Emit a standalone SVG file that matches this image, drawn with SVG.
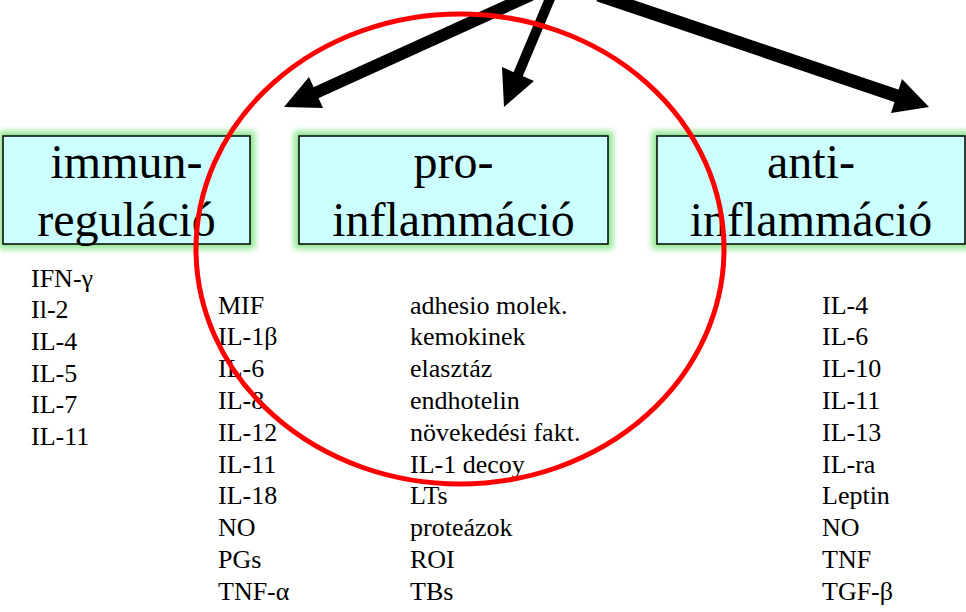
<svg xmlns="http://www.w3.org/2000/svg" width="966" height="612" viewBox="0 0 966 612">
<defs>
<filter id="glow" x="-10%" y="-20%" width="120%" height="140%">
<feGaussianBlur stdDeviation="3"/>
</filter>
<style>
.glow{fill:#8ee68e;filter:url(#glow)}
.box{fill:#ccffff;stroke:#000;stroke-width:1.5}
.title{font-size:48px;fill:#000;text-anchor:middle}
.item{font-size:26px;fill:#000}
.shaft{stroke:#000;fill:none;stroke-linecap:butt}
.head{fill:#000}
</style>
</defs>
<rect width="966" height="612" fill="#fff"/>
<g font-family="'Liberation Serif', 'Times New Roman', serif">
<g id="node-immunregulacio">
<rect class="glow" x="-1" y="131" width="256" height="118"/>
<rect class="box" x="3" y="136" width="247" height="108"/>
<text class="title" x="126.5" y="178">immun-</text>
<text class="title" x="126.5" y="236">reguláció</text>
</g>
<g id="node-proinflammacio">
<rect class="glow" x="294" y="131" width="319" height="118"/>
<rect class="box" x="299" y="136" width="309" height="108"/>
<text class="title" x="453.5" y="178">pro-</text>
<text class="title" x="453.5" y="236">inflammáció</text>
</g>
<g id="node-antiinflammacio">
<rect class="glow" x="652" y="131" width="320" height="118"/>
<rect class="box" x="657" y="136" width="308" height="108"/>
<text class="title" x="811" y="178">anti-</text>
<text class="title" x="811" y="236">inflammáció</text>
</g>
<g id="list-immun" class="item">
<text x="31" y="286.5">IFN-γ</text>
<text x="31" y="318.2">Il-2</text>
<text x="31" y="349.9">IL-4</text>
<text x="31" y="381.6">IL-5</text>
<text x="31" y="413.3">IL-7</text>
<text x="31" y="445">IL-11</text>
</g>
<g id="list-pro1" class="item">
<text x="218" y="313.5">MIF</text>
<text x="218" y="345.3">IL-1β</text>
<text x="218" y="377.1">IL-6</text>
<text x="218" y="408.9">IL-8</text>
<text x="218" y="440.7">IL-12</text>
<text x="218" y="472.5">IL-11</text>
<text x="218" y="504.3">IL-18</text>
<text x="218" y="536.1">NO</text>
<text x="218" y="567.9">PGs</text>
<text x="218" y="599.7">TNF-α</text>
</g>
<g id="list-pro2" class="item">
<text x="410" y="313.5">adhesio molek.</text>
<text x="410" y="345.3">kemokinek</text>
<text x="410" y="377.1">elasztáz</text>
<text x="410" y="408.9">endhotelin</text>
<text x="410" y="440.7">növekedési fakt.</text>
<text x="410" y="472.5">IL-1 decoy</text>
<text x="410" y="504.3">LTs</text>
<text x="410" y="536.1">proteázok</text>
<text x="410" y="567.9">ROI</text>
<text x="410" y="599.7">TBs</text>
</g>
<g id="list-anti" class="item">
<text x="822" y="313.5">IL-4</text>
<text x="822" y="345.3">IL-6</text>
<text x="822" y="377.1">IL-10</text>
<text x="822" y="408.9">IL-11</text>
<text x="822" y="440.7">IL-13</text>
<text x="822" y="472.5">IL-ra</text>
<text x="822" y="504.3">Leptin</text>
<text x="822" y="536.1">NO</text>
<text x="822" y="567.9">TNF</text>
<text x="822" y="599.7">TGF-β</text>
</g>
</g>
<g id="connectors">
<line class="shaft" x1="531" y1="-5" x2="312" y2="94.5" stroke-width="12"/>
<polygon class="head" points="284,107 309,77 323,108"/>
<line class="shaft" x1="551.5" y1="-5" x2="517" y2="77" stroke-width="10"/>
<polygon class="head" points="504,107 502,67 534,81"/>
<line class="shaft" x1="598.5" y1="-5" x2="900" y2="97" stroke-width="13"/>
<polygon class="head" points="929,107 902,79 891,113"/>
</g>
<ellipse id="highlight" cx="460" cy="249" rx="264" ry="235" fill="none" stroke="#ff0000" stroke-width="5"/>
</svg>
